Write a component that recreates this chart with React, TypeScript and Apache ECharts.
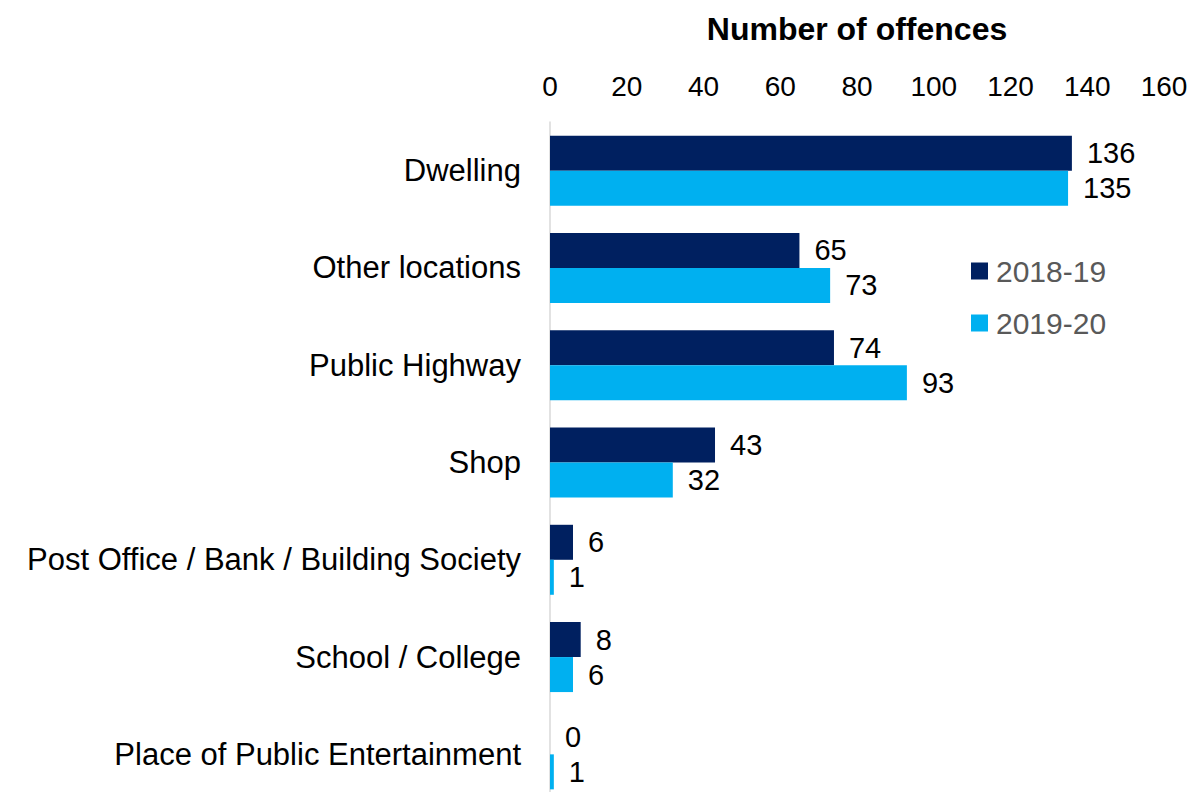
import React, { useEffect, useRef } from "react";
import * as echarts from "echarts";

const categories = [
  "Dwelling",
  "Other locations",
  "Public Highway",
  "Shop",
  "Post Office / Bank / Building Society",
  "School / College",
  "Place of Public Entertainment",
];
const seriesNames = ["2018-19", "2019-20"];
const values1819 = [136, 65, 74, 43, 6, 8, 0];
const values1920 = [135, 73, 93, 32, 1, 6, 1];
const xTicksMin = 0;
const xTicksMax = 160;
const xTickStep = 20;

const FONT = "'Liberation Sans', Arial, Helvetica, sans-serif";
const DARK = "#002060";
const LIGHT = "#00B0F0";

export default function App() {
  const ref = useRef<HTMLDivElement>(null);
  useEffect(() => {
    if (!ref.current) return;
    const chart = echarts.init(ref.current, null, { renderer: "svg" });
    const labelStyle = {
      show: true,
      position: "right" as const,
      distance: 15,
      color: "#000",
      fontSize: 29,
      fontFamily: FONT,
    };
    chart.setOption({
      animation: false,
      textStyle: { fontFamily: FONT },
      grid: { left: 550, top: 122, width: 614, height: 681, containLabel: false },
      legend: {
        orient: "vertical",
        left: 971,
        top: 256,
        padding: 0,
        itemWidth: 17,
        itemHeight: 17,
        itemGap: 22,
        icon: "rect",
        textStyle: { color: "#595959", fontSize: 30, fontFamily: FONT, padding: [0, 0, 0, 3] },
        data: seriesNames,
      },
      xAxis: {
        type: "value",
        position: "top",
        min: xTicksMin,
        max: xTicksMax,
        interval: xTickStep,
        name: "Number of offences",
        nameLocation: "middle",
        nameGap: 93,
        nameTextStyle: {
          fontSize: 32,
          fontWeight: "bold",
          color: "#000",
          fontFamily: FONT,
          verticalAlign: "middle",
        },
        axisLine: { show: false },
        axisTick: { show: false },
        splitLine: { show: false },
        axisLabel: { color: "#000", fontSize: 28, fontFamily: FONT, margin: 22 },
      },
      yAxis: {
        type: "category",
        inverse: true,
        data: categories,
        axisLine: { show: true, lineStyle: { color: "#D9D9D9", width: 1.5 } },
        axisTick: { show: false },
        axisLabel: { color: "#000", fontSize: 31, fontFamily: FONT, margin: 29 },
      },
      series: [
        {
          name: seriesNames[0],
          type: "bar",
          data: values1819,
          barWidth: 35,
          barGap: "0%",
          itemStyle: { color: DARK },
          label: labelStyle,
        },
        {
          name: seriesNames[1],
          type: "bar",
          data: values1920,
          barWidth: 35,
          barGap: "0%",
          itemStyle: { color: LIGHT },
          label: labelStyle,
        },
      ],
    });
    return () => chart.dispose();
  }, []);
  return (
    <div
      style={{
        position: "fixed",
        left: 0,
        top: 0,
        width: 1194,
        height: 792,
        overflow: "hidden",
        background: "#fff",
      }}
    >
      <div ref={ref} style={{ position: "absolute", left: 0, top: 0, width: 1194, height: 810 }} />
    </div>
  );
}
